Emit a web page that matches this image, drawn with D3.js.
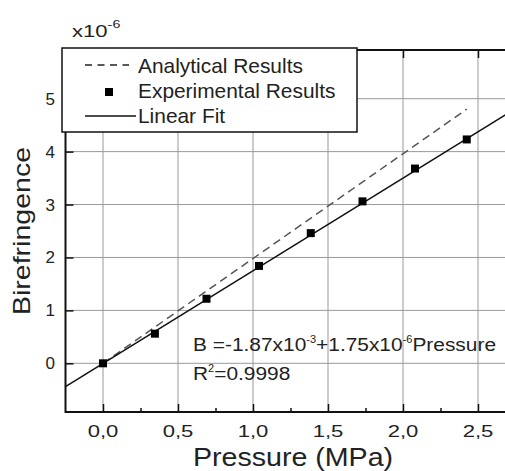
<!DOCTYPE html>
<html>
<head>
<meta charset="utf-8">
<script src="https://cdn.jsdelivr.net/npm/d3@7"></script>
<style>
  body { margin: 0; background: #fff; }
  text { font-family: "Liberation Sans", Arial, sans-serif; fill: #222; }
</style>
</head>
<body>
<div id="chart"></div>
<script>
// data (birefringence in units of 1e-6)
var pressure = [0, 0.346, 0.69, 1.04, 1.385, 1.73, 2.08, 2.425];
var birefringence = [0, 0.56, 1.22, 1.84, 2.46, 3.06, 3.68, 4.23];
var fitIntercept = -0.00187, fitSlope = 1.75;
var analyticalX = [0, 2.425];
var analyticalSlope = 1.98;
var xTicks = [0, 0.5, 1.0, 1.5, 2.0, 2.5];
var xMinorTicks = [0.25, 0.75, 1.25, 1.75, 2.25, 2.75];
var yTicks = [0, 1, 2, 3, 4, 5];
var legendLabels = ["Analytical Results", "Experimental Results", "Linear Fit"];

var W = 505, H = 471;
// plot frame (note: "top" is reserved on window, so use pTop etc)
var pLeft = 65.5, pTop = 50, pRight = 515.5, pBottom = 412;

var svg = d3.select("#chart").append("svg")
    .attr("width", W)
    .attr("height", H)
    .style("display", "block");

var x = d3.scaleLinear().domain([-0.25, 2.75]).range([pLeft, pRight]);
var y = d3.scaleLinear().domain([-0.92, 5.92]).range([pBottom, pTop]);

var fmt = function(d) { return d3.format(".1f")(d).replace(".", ","); };

// the original font is wider than Arial, so stretch text horizontally
function wideText(parent, tx, ty, sx, size) {
    return parent.append("text")
        .attr("transform", "translate(" + tx + "," + ty + ")scale(" + sx + ",1)")
        .style("font-size", size + "px");
}

// grid
svg.append("g").selectAll("line").data(xTicks).enter().append("line")
    .attr("x1", function(d) { return x(d); }).attr("x2", function(d) { return x(d); })
    .attr("y1", pTop).attr("y2", pBottom)
    .attr("stroke", "#999").attr("stroke-width", 1);
svg.append("g").selectAll("line").data(yTicks).enter().append("line")
    .attr("y1", function(d) { return y(d); }).attr("y2", function(d) { return y(d); })
    .attr("x1", pLeft).attr("x2", pRight)
    .attr("stroke", "#999").attr("stroke-width", 1);

// frame
svg.append("rect")
    .attr("x", pLeft).attr("y", pTop)
    .attr("width", pRight - pLeft).attr("height", pBottom - pTop)
    .attr("fill", "none").attr("stroke", "#111").attr("stroke-width", 2);

// ticks (inward)
function tickStyle(g) {
    g.select(".domain").remove();
    g.selectAll("line").attr("stroke", "#111").attr("stroke-width", 1.5);
}
svg.append("g")
    .attr("transform", "translate(0," + pBottom + ")")
    .call(d3.axisBottom(x).tickValues(xTicks).tickSize(-8).tickFormat(""))
    .call(tickStyle);
svg.append("g")
    .attr("transform", "translate(0," + pBottom + ")")
    .call(d3.axisBottom(x).tickValues(xMinorTicks).tickSize(-4).tickFormat(""))
    .call(tickStyle);
svg.append("g")
    .attr("transform", "translate(0," + pTop + ")")
    .call(d3.axisTop(x).tickValues(xTicks).tickSize(-8).tickFormat(""))
    .call(tickStyle);
svg.append("g")
    .attr("transform", "translate(" + pLeft + ",0)")
    .call(d3.axisLeft(y).tickValues(yTicks).tickSize(-8).tickFormat(""))
    .call(tickStyle);

// tick labels
xTicks.forEach(function(d) {
    wideText(svg, x(d), 437, 1.3, 17)
        .attr("text-anchor", "middle")
        .text(fmt(d));
});
svg.append("g").selectAll("text").data(yTicks).enter().append("text")
    .attr("x", 55)
    .attr("y", function(d) { return y(d) + 6; })
    .attr("text-anchor", "end")
    .style("font-size", "17px")
    .text(function(d) { return d; });

// multiplier
var mult = wideText(svg, 72, 37, 1.3, 17);
mult.append("tspan").text("x10");
mult.append("tspan").attr("dy", -9).style("font-size", "11px").text("-6");

// axis titles
wideText(svg, 293, 466, 1.1, 26)
    .attr("text-anchor", "middle")
    .text("Pressure (MPa)");
svg.append("text")
    .attr("transform", "translate(30,231)rotate(-90)scale(1.19,1)")
    .attr("text-anchor", "middle")
    .style("font-size", "24px")
    .text("Birefringence");

// clip for plot content
svg.append("clipPath").attr("id", "plotclip")
    .append("rect").attr("x", pLeft).attr("y", pTop)
    .attr("width", pRight - pLeft).attr("height", pBottom - pTop);
var plot = svg.append("g").attr("clip-path", "url(#plotclip)");

// analytical dashed line
var line = d3.line().x(function(d) { return x(d[0]); }).y(function(d) { return y(d[1]); });
plot.append("path")
    .datum(analyticalX.map(function(d) { return [d, analyticalSlope * d]; }))
    .attr("d", line)
    .attr("fill", "none").attr("stroke", "#555").attr("stroke-width", 1.5)
    .attr("stroke-dasharray", "8,5");

// linear fit
plot.append("path")
    .datum(x.domain().map(function(d) { return [d, fitIntercept + fitSlope * d]; }))
    .attr("d", line)
    .attr("fill", "none").attr("stroke", "#111").attr("stroke-width", 1.5);

// experimental points
plot.append("g").selectAll("rect").data(pressure).enter().append("rect")
    .attr("x", function(d) { return x(d) - 4; })
    .attr("y", function(d, i) { return y(birefringence[i]) - 4; })
    .attr("width", 8).attr("height", 8)
    .attr("fill", "#000");

// fit annotation
var eq = wideText(svg, 193, 351, 1.1, 19);
eq.append("tspan").text("B =-1.87x10");
eq.append("tspan").attr("dy", -8).style("font-size", "10px").text("-3");
eq.append("tspan").attr("dy", 8).text("+1.75x10");
eq.append("tspan").attr("dy", -8).style("font-size", "10px").text("-6");
eq.append("tspan").attr("dy", 8).text("Pressure");
var r2 = wideText(svg, 193, 380, 1.1, 19);
r2.append("tspan").text("R");
r2.append("tspan").attr("dy", -8).style("font-size", "10px").text("2");
r2.append("tspan").attr("dy", 8).text("=0.9998");

// legend
var lg = svg.append("g");
lg.append("rect")
    .attr("x", 62).attr("y", 48).attr("width", 295).attr("height", 84)
    .attr("fill", "#fff").attr("stroke", "#111").attr("stroke-width", 1.5);
lg.append("line").attr("x1", 85).attr("x2", 129).attr("y1", 65).attr("y2", 65)
    .attr("stroke", "#222").attr("stroke-width", 1.5).attr("stroke-dasharray", "7,5.5");
lg.append("rect").attr("x", 105).attr("y", 88).attr("width", 8).attr("height", 8).attr("fill", "#000");
lg.append("line").attr("x1", 85).attr("x2", 136).attr("y1", 116).attr("y2", 116)
    .attr("stroke", "#111").attr("stroke-width", 1.5);
legendLabels.forEach(function(d, i) {
    wideText(lg, 138, [73, 98, 123][i], 1.02, 20.5).text(d);
});
</script>
</body>
</html>
